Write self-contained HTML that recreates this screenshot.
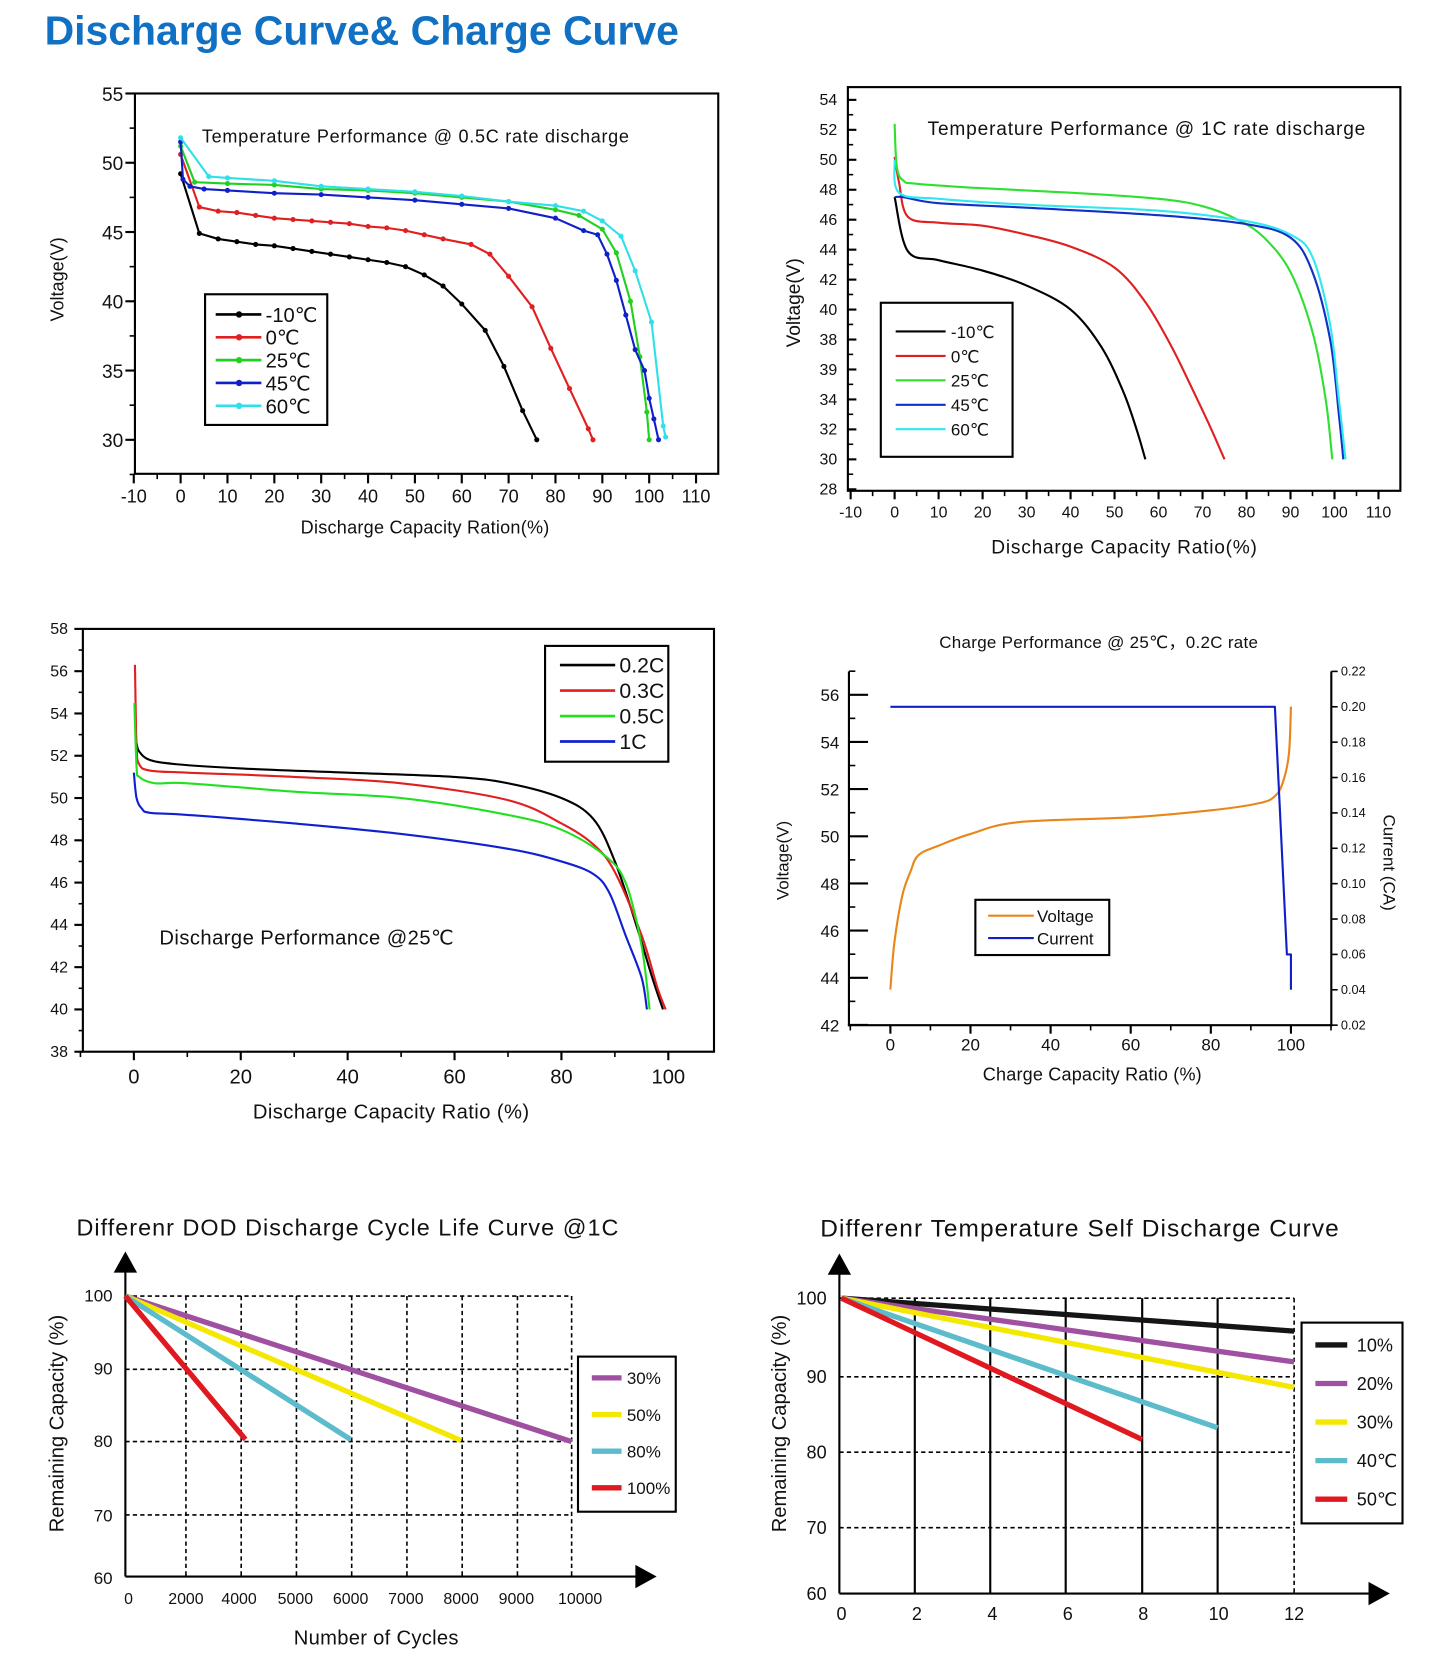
<!DOCTYPE html>
<html><head><meta charset="utf-8">
<style>
html,body{margin:0;padding:0;background:#fff;}
svg{display:block;}
text{font-family:"Liberation Sans","DejaVu Sans","Noto Sans CJK SC",sans-serif;fill:#111;}
</style></head>
<body>
<svg id="s" width="1445" height="1670" viewBox="0 0 1360 1572" preserveAspectRatio="none" xmlns="http://www.w3.org/2000/svg">
<rect width="1360" height="1572" fill="#fff"/>
<text x="42" y="42" font-size="38" font-weight="bold" textLength="597" lengthAdjust="spacingAndGlyphs" style="fill:#1070c4">Discharge Curve&amp; Charge Curve</text>
<g id="g"></g>
</svg>
<script>
var g=document.getElementById('g');var h='';
function T(x,y,s,t,a,extra){h+='<text x="'+x+'" y="'+y+'" font-size="'+s+'" text-anchor="'+(a||'start')+'" '+(extra||'')+'>'+t+'</text>';}
function L(x1,y1,x2,y2,c,w,d){h+='<line x1="'+x1+'" y1="'+y1+'" x2="'+x2+'" y2="'+y2+'" stroke="'+c+'" stroke-width="'+w+'"'+(d?' stroke-dasharray="'+d+'"':'')+'/>';}
function R(x,y,w,hh,sw){h+='<rect x="'+x+'" y="'+y+'" width="'+w+'" height="'+hh+'" fill="#fff" stroke="#000" stroke-width="'+sw+'"/>';}
function P(pts,fx,fy,c,w,mk,sm){var q=pts.map(function(p){return [fx(p[0]),fy(p[1])];});var d='M'+q[0][0].toFixed(1)+' '+q[0][1].toFixed(1);
for(var i=1;i<q.length;i++){if(sm){var p0=q[Math.max(0,i-2)],p1=q[i-1],p2=q[i],p3=q[Math.min(q.length-1,i+1)];
var c1x=p1[0]+(p2[0]-p0[0])/6,c1y=p1[1]+(p2[1]-p0[1])/6,c2x=p2[0]-(p3[0]-p1[0])/6,c2y=p2[1]-(p3[1]-p1[1])/6;
d+='C'+c1x.toFixed(1)+' '+c1y.toFixed(1)+' '+c2x.toFixed(1)+' '+c2y.toFixed(1)+' '+p2[0].toFixed(1)+' '+p2[1].toFixed(1);}
else d+='L'+q[i][0].toFixed(1)+' '+q[i][1].toFixed(1);}
h+='<path d="'+d+'" fill="none" stroke="'+c+'" stroke-width="'+w+'" stroke-linejoin="round"/>';
if(mk){q.forEach(function(p){h+='<circle cx="'+p[0].toFixed(1)+'" cy="'+p[1].toFixed(1)+'" r="2.4" fill="'+c+'"/>';});}}
// ===== Chart 1
var x1=function(c){return 170+c*4.41},y1=function(v){return 88+(55-v)*13.04};
R(127,88,549,358,2);
for(var v=30;v<=55;v+=5){L(118,y1(v),127,y1(v),'#000',2);T(116,y1(v)+7,18,v,'end');}
for(var v=27.5;v<=55;v+=2.5){L(122,y1(v),127,y1(v),'#000',1.5);}
for(var c=-10;c<=110;c+=10){L(x1(c),446,x1(c),455,'#000',2);T(x1(c),473,17,c,'middle');}
for(var c=-5;c<=110;c+=10){L(x1(c),446,x1(c),451,'#000',1.5);}
T(190,134,17,'Temperature Performance @ 0.5C rate discharge','start','textLength="402"');
T(60,263,17,'Voltage(V)','middle','transform="rotate(-90 60 263)"');
T(400,502,17,'Discharge Capacity Ration(%)','middle','textLength="234"');
var d1=[
['#000',[[0,49.2],[4,44.9],[8,44.5],[12,44.3],[16,44.1],[20,44],[24,43.8],[28,43.6],[32,43.4],[36,43.2],[40,43],[44,42.8],[48,42.5],[52,41.9],[56,41.1],[60,39.8],[65,37.9],[69,35.3],[73,32.1],[76,30]]],
['#e02020',[[0,50.6],[4,46.8],[8,46.5],[12,46.4],[16,46.2],[20,46],[24,45.9],[28,45.8],[32,45.7],[36,45.6],[40,45.4],[44,45.3],[48,45.1],[52,44.8],[56,44.5],[62,44.1],[66,43.4],[70,41.8],[75,39.6],[79,36.6],[83,33.7],[87,30.8],[88,30]]],
['#22d022',[[0,51.2],[3,48.6],[10,48.5],[20,48.4],[30,48.1],[40,48],[50,47.8],[60,47.5],[70,47.2],[80,46.6],[85,46.2],[90,45.2],[93,43.5],[96,40],[98,36],[99.5,32],[100,30]]],
['#1020c8',[[0,51.5],[0.5,48.8],[2,48.3],[5,48.1],[10,48],[20,47.8],[30,47.7],[40,47.5],[50,47.3],[60,47],[70,46.7],[80,46],[86,45.1],[89,44.8],[91,43.4],[93,41.5],[95,39],[97,36.5],[99,35],[100,33],[101,31.5],[102,30]]],
['#30e0e8',[[0,51.8],[6,49],[10,48.9],[20,48.7],[30,48.3],[40,48.1],[50,47.9],[60,47.6],[70,47.2],[80,46.9],[86,46.5],[90,45.8],[94,44.7],[97,42.2],[100.5,38.5],[103,31],[103.5,30.2]]]];
d1.forEach(function(s){P(s[1],x1,y1,s[0],2,1);});
R(193,277,115,123,2);
['-10℃','0℃','25℃','45℃','60℃'].forEach(function(t,i){var y=296+i*21.5;L(203,y,246,y,d1[i][0],2.5);h+='<circle cx="225" cy="'+y+'" r="3" fill="'+d1[i][0]+'"/>';T(250,y+7,19,t);});
// ===== Chart 2
var x2=function(c){return 842+c*4.14},y2=function(v){return 94+(54-v)*14.1};
R(798,82,520,380,2);
var lb2=[54,52,50,48,46,44,42,40,38,39,34,32,30,28];
lb2.forEach(function(t,i){var y=94+i*28.2;L(798,y,806,y,'#000',2);T(788,y+5,15,t,'end');});
for(var i=0;i<13;i++){var y=108+i*28.2;L(798,y,803,y,'#000',1.5);}
for(var c=-10;c<=110;c+=10){L(x2(c),462,x2(c),470,'#000',2);T(x2(c),487,15,c,'middle');}
for(var c=-5;c<=110;c+=10){L(x2(c),462,x2(c),467,'#000',1.5);}
T(873,127,18,'Temperature Performance @ 1C rate discharge','start','textLength="412"');
T(753,285,18,'Voltage(V)','middle','transform="rotate(-90 753 285)"');
T(1058,521,18,'Discharge Capacity Ratio(%)','middle','textLength="250"');
var d2=[
['#000',[[0,47.5],[3,43.9],[10,43.3],[20,42.6],[30,41.6],[40,40],[47,37.5],[52,34.5],[55,32],[57,30]]],
['#e02020',[[0,50.2],[1,48.5],[3,46.2],[10,45.8],[20,45.6],[30,45],[40,44.2],[50,42.8],[57,40.5],[63,37.5],[68,34.5],[72,32],[75,30]]],
['#30e030',[[0,52.4],[0.5,49.5],[2,48.6],[5,48.4],[20,48.1],[40,47.8],[60,47.4],[70,46.9],[78,46],[84,44.8],[90,42.5],[95,38.5],[98,34],[99.5,30]]],
['#1030c8',[[0,47.5],[2,47.5],[10,47.1],[30,46.8],[60,46.3],[80,45.7],[90,44.8],[95,42.5],[99,38],[101,33],[102,30]]],
['#30e8f0',[[0,50],[1,47.8],[10,47.4],[30,47],[60,46.6],[80,45.9],[90,45],[95,43.5],[99,39],[101,34],[102.5,30]]]];
d2.forEach(function(s){P(s[1],x2,y2,s[0],2,0,1);});
R(829,285,124,145,2);
['-10℃','0℃','25℃','45℃','60℃'].forEach(function(t,i){var y=312+i*23;L(843,y,890,y,d2[i][0],2);T(895,y+6,16,t);});
// ===== Chart 3
var x3=function(c){return 126+c*5.03},y3=function(v){return 592+(58-v)*19.9};
R(78,592,594,398,2);
for(var v=38;v<=58;v+=2){L(70,y3(v),78,y3(v),'#000',2);T(64,y3(v)+5,15,v,'end');}
for(var v=39;v<58;v+=2){L(74,y3(v),78,y3(v),'#000',1.5);}
for(var c=0;c<=100;c+=20){L(x3(c),990,x3(c),998,'#000',2);T(x3(c),1020,19,c,'middle');}
for(var c=-10;c<=105;c+=10){if(c%20)L(x3(c),990,x3(c),995,'#000',1.5);}
T(150,889,19,'Discharge Performance @25℃','start','textLength="277"');
T(368,1053,19,'Discharge Capacity Ratio (%)','middle','textLength="260"');
var d3=[
['#000',[[0.5,52.6],[1,52.2],[3,51.8],[8,51.6],[20,51.4],[40,51.2],[60,51],[70,50.7],[80,50],[86,49],[90,47],[94,44],[97,41.5],[99,40]]],
['#e02020',[[0.2,56.3],[0.5,52.5],[1,51.6],[3,51.3],[10,51.2],[30,51],[50,50.7],[70,49.9],[80,48.8],[86,47.8],[90,46.5],[95,43.5],[98,41],[99.5,40]]],
['#20e020',[[0.1,54.5],[0.5,51.5],[1,51],[4,50.7],[10,50.7],[30,50.3],[50,50],[70,49.2],[80,48.5],[88,47.3],[92,46],[95,43],[96.5,40]]],
['#1020d0',[[0,51.2],[0.5,50],[1.5,49.5],[3,49.3],[10,49.2],[30,48.8],[50,48.3],[70,47.6],[80,47],[86,46.4],[89,45.5],[92,43.5],[95,41.5],[96,40]]]];
d3.forEach(function(s){P(s[1],x3,y3,s[0],2,0,1);});
R(513,608,116,109,2);
['0.2C','0.3C','0.5C','1C'].forEach(function(t,i){var y=626+i*24;L(527,y,579,y,d3[i][0],2.5);T(583,y+7,20,t);});
// ===== Chart 4
var x4=function(c){return 838+c*3.77},y4=function(v){return 654+(56-v)*22.2},yc=function(a){return 632+(0.22-a)*1665};
T(1034,610,16,'Charge Performance @ 25℃，0.2C rate','middle','textLength="300"');
L(799,632,799,966,'#000',2);L(1253,632,1253,966,'#000',2);L(798,965,1254,965,'#000',2);
for(var v=42;v<=56;v+=2){L(799,y4(v),817,y4(v),'#000',2);T(790,y4(v)+6,16,v,'end');}
for(var v=43;v<=57;v+=2){L(799,y4(v),805,y4(v),'#000',1.5);}
for(var a=0.02;a<=0.221;a+=0.02){L(1253,yc(a),1259,yc(a),'#000',1.5);T(1262,yc(a)+4,12,a.toFixed(2));}
for(var c=0;c<=100;c+=20){L(x4(c),965,x4(c),973,'#000',2);T(x4(c),989,16,c,'middle');}
for(var c=-10;c<=110;c+=10){if(c%20)L(x4(c),965,x4(c),970,'#000',1.5);}
T(742,810,16,'Voltage(V)','middle','transform="rotate(-90 742 810)"');
T(1302,812,16,'Current (CA)','middle','transform="rotate(90 1302 812)"');
T(1028,1017,17,'Charge Capacity Ratio (%)','middle','textLength="206"');
P([[0,43.5],[1,45.5],[3,47.5],[5,48.5],[7,49.2],[12,49.6],[20,50.1],[32,50.6],[60,50.8],[80,51.1],[92,51.4],[96,51.7],[98,52.3],[99.5,53.5],[100,55.5]],x4,y4,'#e8861a',2,0,1);
P([[0,0.2],[96,0.2],[99,0.06],[100,0.06],[100,0.04]],x4,yc,'#1020c8',2);
R(918,847,126,52,2);
L(930,862,973,862,'#e8861a',2);T(976,868,16,'Voltage');
L(930,883,973,883,'#1020c8',2);T(976,889,16,'Current');
// ===== Chart 5
T(72,1163,22,'Differenr DOD Discharge Cycle Life Curve @1C','start','textLength="510"');
[1220,1289,1357,1426].forEach(function(y){L(118,y,538,y,'#000',1.5,'4 3');});
[175,227,279,331,383,435,487,538].forEach(function(x){L(x,1220,x,1484,'#000',1.5,'4 3');});
L(118,1190,118,1484,'#000',2);L(118,1484,602,1484,'#000',2);
h+='<polygon points="107,1198 118,1178 129,1198" fill="#000"/><polygon points="598,1473 618,1484 598,1495" fill="#000"/>';
[[100,1225],[90,1294],[80,1362],[70,1432],[60,1491]].forEach(function(p){T(106,p[1],16,p[0],'end');});
[['0',121],['2000',175],['4000',225],['5000',278],['6000',330],['7000',382],['8000',434],['9000',486],['10000',546]].forEach(function(p){T(p[1],1510,15,p[0],'middle');});
T(60,1340,19,'Remaining Capacity (%)','middle','transform="rotate(-90 60 1340)"');
T(354,1548,19,'Number of Cycles','middle','textLength="155"');
var c5=['#a050a0','#f5e800','#5cbccc','#e01820'];
L(118,1220,538,1357,c5[0],5);L(118,1220,434,1356,c5[1],5);L(118,1220,330,1355,c5[2],5);L(118,1220,231,1355,c5[3],5);
R(544,1277,92,146,2);
['30%','50%','80%','100%'].forEach(function(t,i){var y=1297+i*34.5;L(557,y,585,y,c5[i],5);T(590,y+6,16,t);});
// ===== Chart 6
T(772,1164,23,'Differenr Temperature Self Discharge Curve','start','textLength="488"');
[1222,1296,1367,1438].forEach(function(y){L(790,y,1218,y,'#000',1.5,'4 3');});
[861,932,1003,1075,1146].forEach(function(x){L(x,1222,x,1500,'#000',2);});
L(1218,1222,1218,1500,'#000',1.5,'4 3');
L(790,1190,790,1500,'#000',2);L(790,1500,1292,1500,'#000',2);
h+='<polygon points="779,1200 790,1180 801,1200" fill="#000"/><polygon points="1288,1489 1308,1500 1288,1511" fill="#000"/>';
[[100,1228],[90,1302],[80,1373],[70,1444],[60,1506]].forEach(function(p){T(778,p[1],17,p[0],'end');});
for(var i=0;i<=12;i+=2){T(792+i*35.5,1525,17,i,'middle');}
T(740,1340,19,'Remaining Capacity (%)','middle','transform="rotate(-90 740 1340)"');
var c6=['#151515','#a050a0','#f5e800','#5cbccc','#e01820'];
L(792,1222,1218,1253,c6[0],5);L(792,1222,1218,1282,c6[1],5);L(792,1222,1218,1306,c6[2],5);L(792,1222,1146,1344,c6[3],5);L(792,1222,1075,1355,c6[4],5);
R(1225,1245,95,189,2);
['10%','20%','30%','40℃','50℃'].forEach(function(t,i){var y=1266+i*36.3;L(1238,y,1268,y,c6[i],5);T(1277,y+6,17,t);});
g.innerHTML=h;
</script>
</body></html>
